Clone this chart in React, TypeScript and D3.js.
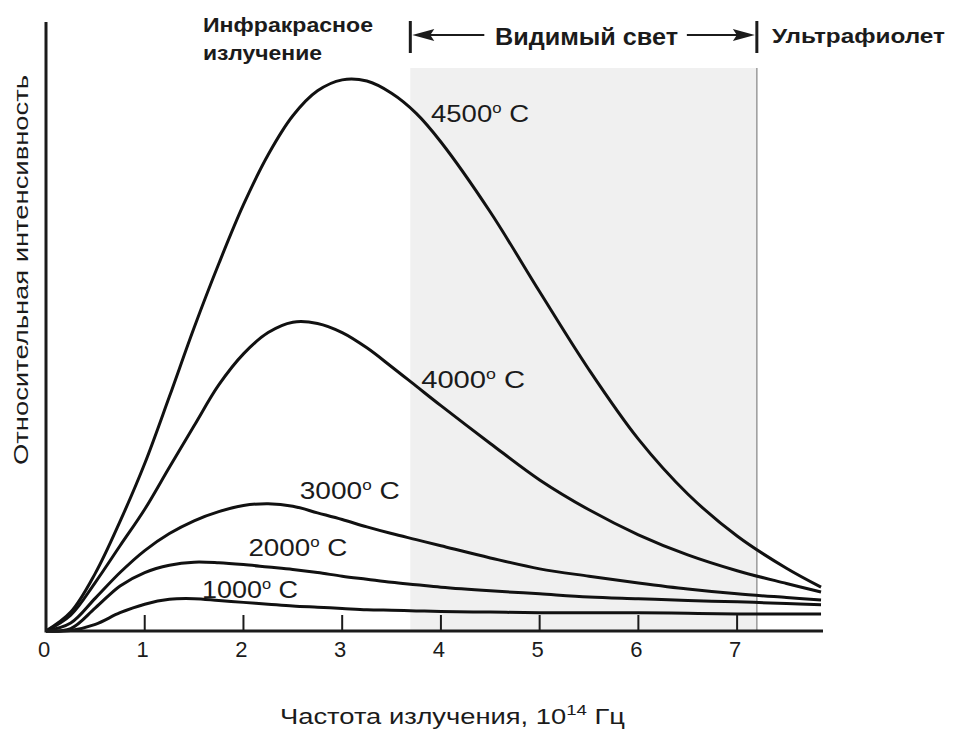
import * as d3 from "d3";

// частота, 10^14 Гц
const freq = [0, 0.25, 0.5, 0.75, 1, 1.25, 1.5, 1.75, 2, 2.25, 2.5, 2.75, 3, 3.25, 3.5, 3.75, 4, 4.5, 5, 5.5, 6, 6.5, 7, 7.5, 7.85];
// относительная интенсивность для каждой температуры
const t4500 = [0, 3.1, 9.5, 18.0, 27.5, 38.5, 49.8, 60.3, 70.0, 78.2, 84.6, 88.7, 90.5, 90.3, 88.3, 85.0, 80.3, 68.8, 55.7, 42.9, 31.5, 22.5, 15.6, 10.3, 7.2];
const t4000 = [0, 2.6, 8.0, 14.0, 20.0, 26.9, 33.7, 40.4, 45.5, 49.0, 50.7, 50.5, 49.0, 46.5, 43.4, 40.2, 37.0, 30.8, 24.8, 19.9, 15.8, 12.5, 9.9, 7.8, 6.4];
const t3000 = [0, 1.3, 5.4, 9.6, 13.2, 16.0, 18.1, 19.6, 20.6, 20.9, 20.5, 19.4, 18.3, 17.1, 16.0, 15.0, 14.0, 12.0, 10.2, 9.0, 7.9, 6.9, 6.1, 5.5, 5.1];
const t2000 = [0, 0.4, 3.8, 7.4, 9.6, 10.8, 11.3, 11.2, 10.9, 10.5, 10.1, 9.6, 9.0, 8.5, 8.0, 7.6, 7.2, 6.6, 6.1, 5.6, 5.3, 5.0, 4.8, 4.5, 4.3];
const t1000 = [0, 0.1, 1.1, 3.0, 4.4, 5.2, 5.3, 5.0, 4.7, 4.4, 4.1, 3.9, 3.7, 3.5, 3.4, 3.3, 3.2, 3.1, 3.0, 3.0, 3.0, 2.9, 2.8, 2.8, 2.8];

const series = [t4500, t4000, t3000, t2000, t1000];
const tempLabels = ["4500", "4000", "3000", "2000", "1000"];
// where the labels sit (freq, intensity)
const labelX = [3.9, 3.8, 2.57, 2.05, 1.58];
const labelY = [83.6, 39.9, 21.7, 12.3, 5.4];
const labelW = [98, 104, 100, 99, 96];

const xTicks = [0, 1, 2, 3, 4, 5, 6, 7];
const visible = [3.69, 7.2]; // видимый свет

const FONT = "'Liberation Sans', Arial, sans-serif";
const INK = "#1b1b1b";

export default function App() {
  const W = 957;
  const H = 733;
  const x = d3.scaleLinear().domain([0, 7.87]).range([46, 823]);
  const y = d3.scaleLinear().domain([0, 100]).range([631, 22]);

  const line = d3
    .line<number>()
    .x((d, i) => x(freq[i]))
    .y((d) => y(Math.max(0, d)))
    .curve(d3.curveCatmullRom.alpha(0.5));

  const vx0 = x(visible[0]);
  const vx1 = x(visible[1]);
  const arrowY = 35;

  return (
    <svg width={W} height={H} style={{ position: "absolute", left: 0, top: 0, background: "#fff" }} fontFamily={FONT}>
      {/* shaded visible band */}
      <rect x={vx0} y={68} width={vx1 - vx0} height={y(0) - 68} fill="#f0f0f0" />
      <line x1={vx1} x2={vx1} y1={68} y2={y(0)} stroke="#9a9a9a" strokeWidth={1.5} />

      {/* bracket on top */}
      <line x1={vx0} x2={vx0} y1={21} y2={53} stroke={INK} strokeWidth={3} />
      <line x1={vx1} x2={vx1} y1={21} y2={53} stroke={INK} strokeWidth={3} />
      <line x1={vx0 + 10} x2={vx0 + 74} y1={arrowY} y2={arrowY} stroke={INK} strokeWidth={2.2} />
      <path d={`M${vx0 + 2},${arrowY} L${vx0 + 24},${arrowY - 6} L${vx0 + 20},${arrowY} L${vx0 + 24},${arrowY + 6}Z`} fill={INK} />
      <line x1={vx1 - 70} x2={vx1 - 10} y1={arrowY} y2={arrowY} stroke={INK} strokeWidth={2.2} />
      <path d={`M${vx1 - 2},${arrowY} L${vx1 - 24},${arrowY - 6} L${vx1 - 20},${arrowY} L${vx1 - 24},${arrowY + 6}Z`} fill={INK} />
      <text x={495} y={45} fontSize={24} fontWeight="bold" fill={INK} textLength={183} lengthAdjust="spacingAndGlyphs">
        Видимый свет
      </text>
      <text x={772} y={43} fontSize={20} fontWeight="bold" fill={INK} textLength={173} lengthAdjust="spacingAndGlyphs">
        Ультрафиолет
      </text>
      <text x={203} y={32} fontSize={20} fontWeight="bold" fill={INK} textLength={170} lengthAdjust="spacingAndGlyphs">
        Инфракрасное
      </text>
      <text x={203} y={60} fontSize={20} fontWeight="bold" fill={INK} textLength={119} lengthAdjust="spacingAndGlyphs">
        излучение
      </text>

      {/* curves */}
      {series.map((s, i) => (
        <path key={i} d={line(s) || ""} fill="none" stroke="#111" strokeWidth={3} strokeLinejoin="round" />
      ))}

      {/* axes */}
      <line x1={x(0)} x2={x(0)} y1={y(100)} y2={y(0) + 1.5} stroke={INK} strokeWidth={3} />
      <line x1={x(0)} x2={x(7.87)} y1={y(0)} y2={y(0)} stroke={INK} strokeWidth={3} />
      {xTicks.map((t) => (
        <g key={t}>
          {t > 0 && <line x1={x(t)} x2={x(t)} y1={y(0)} y2={y(0) - 16} stroke={INK} strokeWidth={2} />}
          <text x={x(t) - 2} y={657} fontSize={22} textAnchor="middle" fill={INK}>
            {t}
          </text>
        </g>
      ))}

      {/* temperature labels */}
      {tempLabels.map((t, i) => (
        <text key={t} x={x(labelX[i])} y={y(labelY[i])} fontSize={23} fill={INK} textLength={labelW[i]} lengthAdjust="spacingAndGlyphs">
          {t}
          <tspan fontSize={14} dy={-9}>o</tspan>
          <tspan dy={9}> C</tspan>
        </text>
      ))}

      {/* axis titles */}
      <text transform="translate(28,270) rotate(-90)" fontSize={21} textAnchor="middle" fill={INK} textLength={390} lengthAdjust="spacingAndGlyphs">
        Относительная интенсивность
      </text>
      <text x={280} y={724} fontSize={22} fill={INK} textLength={345} lengthAdjust="spacingAndGlyphs">
        Частота излучения, 10<tspan fontSize={15} dy={-9}>14</tspan>
        <tspan dy={9}> Гц</tspan>
      </text>
    </svg>
  );
}
